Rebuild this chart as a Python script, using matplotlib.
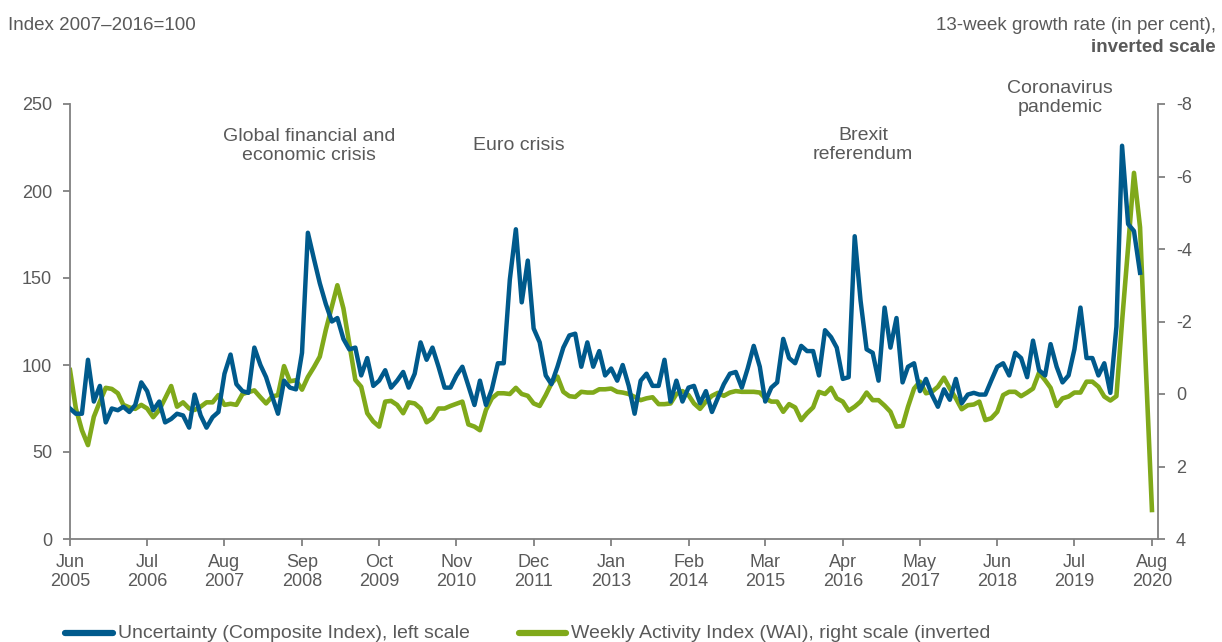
import matplotlib
matplotlib.use("Agg")
import matplotlib.pyplot as plt
from matplotlib.lines import Line2D
import pandas as pd

plt.rcParams['font.family'] = ['Liberation Sans', 'DejaVu Sans']
plt.rcParams['axes.unicode_minus'] = False

# ---------------- data (monthly, starting June 2005) ----------------
start_month = "2005-06-01"

uncertainty = [
    75, 72, 72, 103, 79, 88, 67, 75, 74, 76,
    73, 77, 90, 85, 74, 79, 67, 69, 72, 71,
    64, 83, 71, 64, 70, 73, 95, 106, 89, 85,
    84, 110, 100, 93, 82, 72, 91, 87, 86, 107,
    176, 161, 147, 135, 125, 127, 115, 109, 110, 94,
    104, 88, 91, 97, 87, 91, 96, 87, 95, 113,
    103, 110, 99, 87, 87, 94, 99, 88, 77, 91,
    77, 86, 101, 101, 149, 178, 136, 160, 121, 113,
    94, 89, 99, 110, 117, 118, 99, 113, 99, 108,
    94, 98, 91, 100, 88, 72, 91, 95, 88, 88,
    103, 79, 91, 79, 87, 88, 78, 85, 73, 81,
    89, 95, 96, 87, 98, 111, 99, 79, 87, 90,
    115, 104, 101, 111, 108, 108, 94, 120, 116, 110,
    92, 93, 174, 137, 109, 107, 91, 133, 110, 127,
    90, 99, 101, 85, 92, 83, 76, 86, 80, 92,
    78, 83, 84, 83, 83, 91, 99, 101, 94, 107,
    104, 93, 114, 97, 94, 112, 99, 90, 94, 109,
    133, 104, 104, 94, 101, 84, 122, 226, 181, 177, 153,
]

wai = [
    -0.66, 0.4, 1.0, 1.41, 0.63, 0.21, -0.17, -0.14, -0.02, 0.3,
    0.37, 0.41, 0.3, 0.4, 0.64, 0.44, 0.12, -0.22, 0.35, 0.23,
    0.4, 0.44, 0.35, 0.23, 0.23, 0.03, 0.3, 0.27, 0.3, 0.0,
    -0.05, -0.1, 0.09, 0.26, 0.07, 0.03, -0.77, -0.35, -0.38, -0.12,
    -0.47, -0.74, -1.03, -1.77, -2.41, -3.0, -2.36, -1.4, -0.39, -0.2,
    0.53, 0.76, 0.9, 0.21, 0.19, 0.3, 0.53, 0.23, 0.26, 0.4,
    0.78, 0.67, 0.4, 0.4, 0.33, 0.27, 0.21, 0.84, 0.9, 1.0,
    0.44, 0.12, -0.02, -0.02, 0.0, -0.17, 0.0, 0.05, 0.26, 0.33,
    0.03, -0.29, -0.48, -0.06, 0.06, 0.08, -0.06, -0.04, -0.04, -0.13,
    -0.13, -0.15, -0.06, -0.04, 0.0, 0.08, 0.17, 0.12, 0.09, 0.28,
    0.28, 0.26, 0.0, -0.08, 0.03, 0.26, 0.41, 0.21, 0.05, -0.03,
    0.05, -0.04, -0.08, -0.06, -0.06, -0.06, -0.04, 0.12, 0.21, 0.21,
    0.49, 0.28, 0.37, 0.72, 0.53, 0.37, -0.06, 0.0, -0.17, 0.12,
    0.21, 0.46, 0.35, 0.21, -0.04, 0.17, 0.17, 0.32, 0.49, 0.9,
    0.88, 0.35, -0.15, -0.34, -0.02, -0.06, -0.2, -0.45, -0.15, 0.12,
    0.42, 0.31, 0.29, 0.21, 0.72, 0.67, 0.49, 0.03, -0.06, -0.06,
    0.06, -0.04, -0.15, -0.59, -0.38, -0.17, 0.33, 0.12, 0.07, -0.04,
    -0.04, -0.34, -0.34, -0.2, 0.07, 0.18, 0.06, -2.0, -4.05, -6.1,
    -4.6, -0.7, 3.2,
]

left_ticks = [0, 50, 100, 150, 200, 250]
right_ticks = [-8, -6, -4, -2, 0, 2, 4]
x_tick_count = 15  # every 13 months, Jun 2005 ... Aug 2020

annotations = [
    ("Global financial and\neconomic crisis", 309, 146),
    ("Euro crisis", 519, 146),
    ("Brexit\nreferendum", 863, 145),
    ("Coronavirus\npandemic", 1060, 98),
]

legend_labels = ["Uncertainty (Composite Index), left scale",
                 "Weekly Activity Index (WAI), right scale (inverted"]

# ---------------- styling ----------------
BLUE = "#005a8c"
GREEN = "#80a91a"
TEXT = "#595959"
AXIS = "#808080"
FS = 13

W, H = 1222, 642
fig = plt.figure(figsize=(W / 100, H / 100), dpi=100)
ax = fig.add_axes([70 / W, 1 - 539 / H, (1158 - 70) / W, (539 - 104) / H])
ax2 = ax.twinx()

dates_u = pd.date_range(start_month, periods=len(uncertainty), freq="MS")
dates_w = pd.date_range(start_month, periods=len(wai), freq="MS")

ax.plot(dates_u, uncertainty, color=BLUE, lw=3.2, solid_joinstyle="round", zorder=3)
ax2.plot(dates_w, wai, color=GREEN, lw=3.3, solid_joinstyle="round", zorder=2)

ax.set_ylim(0, 250)
ax.set_yticks(left_ticks)
ax2.set_ylim(4, -8)
ax2.set_yticks(right_ticks)
ax2.set_yticklabels([str(t) for t in right_ticks])

xt = pd.date_range(start_month, periods=x_tick_count, freq="13MS")
ax.set_xlim(pd.Timestamp(start_month), pd.Timestamp("2020-09-01"))
ax.set_xticks(xt)
ax.set_xticklabels([d.strftime("%b\n%Y") for d in xt], linespacing=1.15)

for a in (ax, ax2):
    a.spines["top"].set_visible(False)
    for s in ("left", "right", "bottom"):
        a.spines[s].set_color(AXIS)
        a.spines[s].set_linewidth(1.3)
    a.tick_params(colors=AXIS, labelcolor=TEXT, labelsize=FS, length=5, width=1.3, pad=8)
ax.spines["right"].set_visible(False)
ax2.spines["left"].set_visible(False)
ax2.spines["bottom"].set_visible(False)
ax.tick_params(axis="x", pad=6)
ax.set_zorder(ax2.get_zorder() + 1)
ax.patch.set_visible(False)

# headers
fig.text(8 / W, 1 - 25 / H, "Index 2007\u20132016=100", ha="left", va="center",
         color=TEXT, fontsize=13.5)
fig.text(1216 / W, 1 - 25 / H, "13-week growth rate (in per cent),", ha="right",
         va="center", color=TEXT, fontsize=13.5)
fig.text(1216 / W, 1 - 48 / H, "inverted scale", ha="right", va="center",
         color=TEXT, fontsize=13.5, fontweight="bold")

for txt, xp, yp in annotations:
    fig.text(xp / W, 1 - yp / H, txt, ha="center", va="center", color=TEXT,
             fontsize=14, linespacing=1.15)

# legend (bottom, partly cut like the reference)
ly = 1 - 633 / H
fig.add_artist(Line2D([65 / W, 113 / W], [ly, ly], color=BLUE, lw=4.5,
                      transform=fig.transFigure, solid_capstyle="round"))
fig.text(118 / W, ly, legend_labels[0], ha="left", va="center", color=TEXT, fontsize=14)
fig.add_artist(Line2D([519 / W, 566 / W], [ly, ly], color=GREEN, lw=4.5,
                      transform=fig.transFigure, solid_capstyle="round"))
fig.text(571 / W, ly, legend_labels[1], ha="left", va="center", color=TEXT, fontsize=14)

fig.savefig("out.png", dpi=100)
